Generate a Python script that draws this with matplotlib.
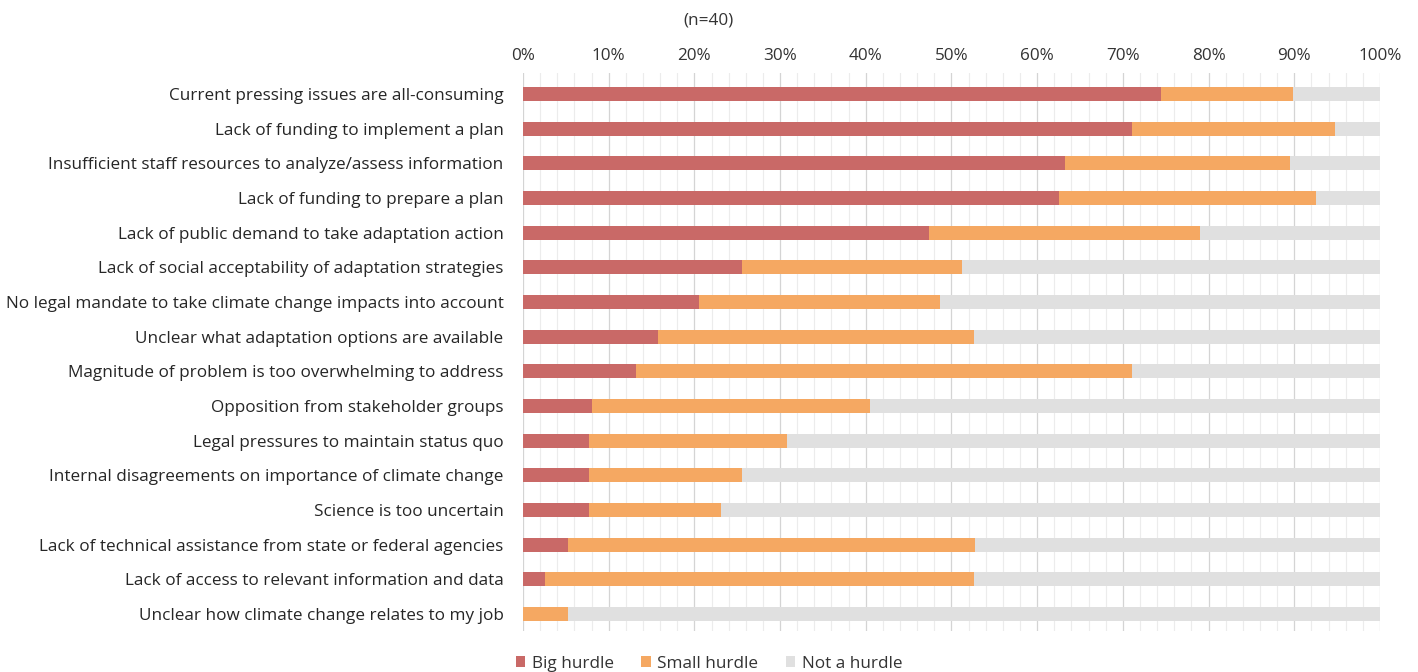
import matplotlib
matplotlib.use("Agg")
import matplotlib.pyplot as plt
from matplotlib.ticker import MultipleLocator, FuncFormatter
from matplotlib.patches import Patch
import numpy as np

categories = [
    "Current pressing issues are all-consuming",
    "Lack of funding to implement a plan",
    "Insufficient staff resources to analyze/assess information",
    "Lack of funding to prepare a plan",
    "Lack of public demand to take adaptation action",
    "Lack of social acceptability of adaptation strategies",
    "No legal mandate to take climate change impacts into account",
    "Unclear what adaptation options are available",
    "Magnitude of problem is too overwhelming to address",
    "Opposition from stakeholder groups",
    "Legal pressures to maintain status quo",
    "Internal disagreements on importance of climate change",
    "Science is too uncertain",
    "Lack of technical assistance from state or federal agencies",
    "Lack of access to relevant information and data",
    "Unclear how climate change relates to my job",
]
big_hurdle = [74.4, 71.1, 63.2, 62.5, 47.4, 25.6, 20.5, 15.8, 13.2, 8.1, 7.7, 7.7, 7.7, 5.3, 2.6, 0.0]
small_hurdle = [15.4, 23.7, 26.3, 30.0, 31.6, 25.6, 28.2, 36.8, 57.9, 32.4, 23.1, 17.9, 15.4, 47.4, 50.0, 5.3]
not_hurdle = [100 - b - s for b, s in zip(big_hurdle, small_hurdle)]

subtitle = "(n=40)"
series_names = ["Big hurdle", "Small hurdle", "Not a hurdle"]
colors = ["#c96967", "#f5a862", "#e0e0e0"]

plt.rcParams['font.family'] = ['Open Sans', 'DejaVu Sans']

fig = plt.figure(figsize=(14.18, 6.72), dpi=100)
ax = fig.add_axes([0.3688, 0.0606, 0.9732 - 0.3688, 0.891 - 0.0606])

y = np.arange(len(categories))
h = 0.4
ax.barh(y, big_hurdle, height=h, color=colors[0], zorder=3)
ax.barh(y, small_hurdle, left=big_hurdle, height=h, color=colors[1], zorder=3)
left2 = [b + s for b, s in zip(big_hurdle, small_hurdle)]
ax.barh(y, not_hurdle, left=left2, height=h, color=colors[2], zorder=3)

ax.set_xlim(0, 100)
ax.set_ylim(len(categories) - 0.5, -0.6)
ax.set_yticks(y)
ax.set_yticklabels(categories, fontsize=12.3, color="#262626")
ax.xaxis.set_major_locator(MultipleLocator(10))
ax.xaxis.set_minor_locator(MultipleLocator(2))
ax.xaxis.set_major_formatter(FuncFormatter(lambda v, p: f"{int(round(v))}%"))
ax.xaxis.tick_top()
ax.tick_params(axis="x", which="both", length=0, labelsize=12.3, labelcolor="#333333", pad=7)
ax.tick_params(axis="y", length=0, pad=14)
ax.grid(axis="x", which="major", color="#d4d4d4", linewidth=0.9, zorder=0)
ax.grid(axis="x", which="minor", color="#ececec", linewidth=0.8, zorder=0)
for s in ax.spines.values():
    s.set_visible(False)

fig.text(0.4993, 0.970, subtitle, ha="center", va="center", fontsize=12.3, color="#333333")

handles = [Patch(facecolor=c, edgecolor="none") for c in colors]
fig.legend(handles, series_names, loc="center", bbox_to_anchor=(0.5, 0.0125), ncol=3,
           frameon=False, fontsize=12.3, handlelength=0.55, handleheight=0.55,
           handletextpad=0.4, columnspacing=1.6, labelcolor="#333333")

fig.savefig("out.png", dpi=100)
